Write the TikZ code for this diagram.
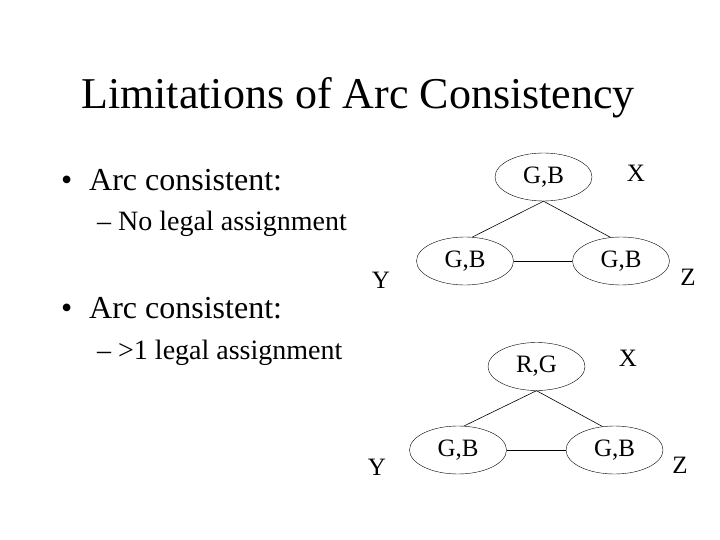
\documentclass[tikz,border=0pt]{standalone}
\usepackage{fontspec}
\setmainfont{Liberation Serif}
\usetikzlibrary{shapes.geometric}
\begin{document}
\begin{tikzpicture}[x=1pt,y=-1pt,
  dom/.style={draw,ellipse,minimum width=97pt,minimum height=48pt,inner sep=0pt,font=\fontsize{25}{29}\selectfont},
  varlbl/.style={font=\fontsize{25}{29}\selectfont,inner sep=0pt},
  bul/.style={anchor=base west,inner sep=0pt,font=\fontsize{32}{38}\selectfont},
  sub/.style={anchor=base west,inner sep=0pt,font=\fontsize{28}{34}\selectfont},
  edge/.style={draw,line width=0.6pt}]
\useasboundingbox (0,0) rectangle (720,540);
% title
\node[anchor=base,inner sep=0pt,font=\fontsize{44}{52}\selectfont] (title) at (358,109) {Limitations of Arc Consistency};
% bullets
\node[bul] (b1) at (61,191) {•};
\node[bul] (t1) at (89,191) {Arc consistent:};
\node[sub] (s1) at (97,230) {– No legal assignment};
\node[bul] (b2) at (61,318) {•};
\node[bul] (t2) at (89,318) {Arc consistent:};
\node[sub] (s2) at (97,359) {– >1 legal assignment};
% top graph
\node[dom] (x1) at (543.5,177) {G,B};
\node[dom] (y1) at (465,261) {G,B};
\node[dom] (z1) at (621,261) {G,B};
\node[varlbl] (lx1) at (636,173) {X};
\node[varlbl] (ly1) at (381,280) {Y};
\node[varlbl] (lz1) at (688,277) {Z};
\draw[edge] (x1.south) -- (y1.73.7);
\draw[edge] (x1.south) -- (z1.114.6);
\draw[edge] (y1.east) -- (z1.west);
% bottom graph
\node[dom] (x2) at (536.5,366.5) {R,G};
\node[dom] (y2) at (458,450) {G,B};
\node[dom] (z2) at (614.5,450) {G,B};
\node[varlbl] (lx2) at (628,358) {X};
\node[varlbl] (ly2) at (377,467) {Y};
\node[varlbl] (lz2) at (680,465) {Z};
\draw[edge] (x2.south) -- (y2.76);
\draw[edge] (x2.south) -- (z2.117.5);
\draw[edge] (y2.east) -- (z2.west);
\end{tikzpicture}
\end{document}
